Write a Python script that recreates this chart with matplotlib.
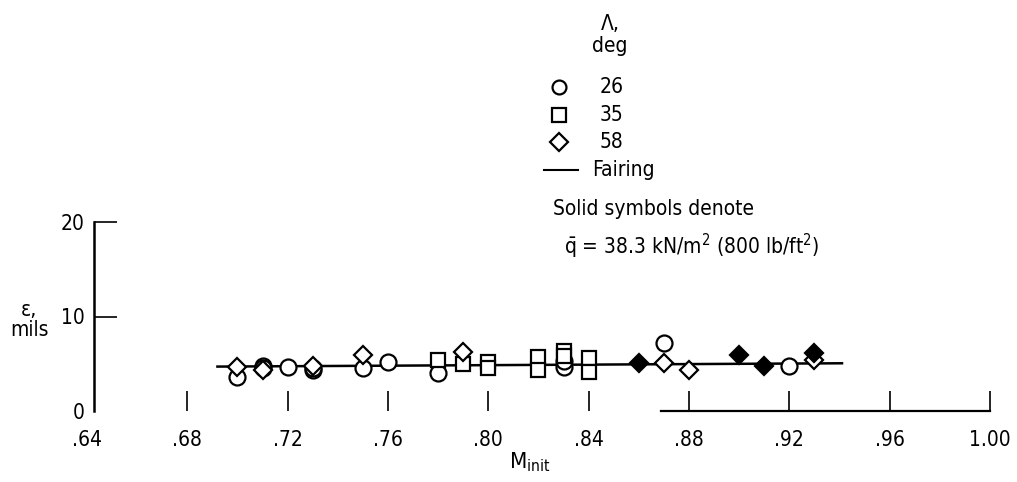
#!/usr/bin/env python3
# -*- coding: utf-8 -*-
"""
Deflection vs initial Mach number, three sweep angles.
"""

import matplotlib
matplotlib.use('Agg')
import matplotlib.pyplot as plt
from matplotlib.lines import Line2D

plt.rcParams['font.family'] = ['DejaVu Sans']
plt.rcParams['font.stretch'] = 'condensed'
plt.rcParams['mathtext.fontset'] = 'dejavusans'

#%% Data (eps in mils)
m_26 = [0.70, 0.71, 0.71, 0.72, 0.73, 0.73, 0.75, 0.76, 0.78, 0.83, 0.83, 0.87, 0.92]
e_26 = [3.6, 4.8, 4.5, 4.7, 4.3, 4.6, 4.5, 5.2, 4.0, 4.7, 5.3, 7.2, 4.8]

m_35 = [0.78, 0.79, 0.80, 0.80, 0.82, 0.82, 0.83, 0.83, 0.84, 0.84]
e_35 = [5.4, 5.0, 5.2, 4.5, 5.7, 4.3, 6.3, 5.8, 5.6, 4.1]

m_58 = [0.70, 0.71, 0.73, 0.75, 0.79, 0.87, 0.88, 0.93]
e_58 = [4.7, 4.3, 4.8, 5.9, 6.2, 5.1, 4.3, 5.4]

# solid symbols, q = 38.3 kN/m^2
m_58q = [0.86, 0.90, 0.91, 0.93]
e_58q = [5.1, 5.9, 4.8, 6.1]

m_fair = [0.692, 0.941]
e_fair = [4.7, 5.05]

xticks = [0.64, 0.68, 0.72, 0.76, 0.80, 0.84, 0.88, 0.92, 0.96, 1.00]
xticklabels = ['.64', '.68', '.72', '.76', '.80', '.84', '.88', '.92', '.96', '1.00']
yticks = [0, 10, 20]

#%% Figure
W, H = 1017, 482
fig = plt.figure(figsize=(W/100, H/100), dpi=100)
ax = fig.add_axes([87/W, 1 - 411/H, (990-87)/W, (411-222)/H])

mk = dict(linestyle='none', mec='k', mew=1.6)
ax.plot(m_fair, e_fair, color='k', lw=1.8, zorder=1)
ax.plot(m_26, e_26, marker='o', ms=11.5, mfc='white', **mk)
ax.plot(m_35, e_35, marker='s', ms=9.5, mfc='white', **mk)
ax.plot(m_58, e_58, marker='D', ms=9.5, mfc='white', **mk)
ax.plot(m_58q, e_58q, marker='D', ms=9.5, mfc='k', **mk)

for s in ['top', 'right']:
    ax.spines[s].set_visible(False)
ax.spines['left'].set_linewidth(1.8)
ax.spines['left'].set_position(('data', 0.6428))
ax.spines['bottom'].set_linewidth(1.6)
ax.spines['bottom'].set_bounds(0.869, 1.00)

ax.set_xlim(0.64, 1.00)
ax.set_ylim(0, 20)
ax.set_xticks(xticks)
ax.set_xticklabels(xticklabels)
ax.set_yticks(yticks)
ax.tick_params(axis='x', direction='in', length=14.5, width=1.2, pad=14, labelsize=15)
ax.tick_params(axis='y', direction='in', length=16.5, width=1.2, pad=7, labelsize=15)
ax.xaxis.get_major_ticks()[0].tick1line.set_visible(False)
ax.yaxis.get_major_ticks()[0].tick1line.set_visible(False)

def px(x, y):
    return x / W, 1 - y / H

# axis labels
fig.text(*px(29, 320), 'ε,\nmils', ha='center', va='center', fontsize=15, linespacing=1.0)
fig.text(*px(530, 462), r'M$_{\mathregular{init}}$', ha='center', va='center', fontsize=16)

# key
fig.text(*px(610, 35), 'Λ,\ndeg', ha='center', va='center', fontsize=15, linespacing=1.1)
for yy, m, lab in [(87, 'o', '26'), (115, 's', '35'), (142, 'D', '58')]:
    fig.add_artist(Line2D([559/W], [1 - yy/H], marker=m, ms=10 if m != 'D' else 9,
                          mfc='white', mec='k', mew=1.6, transform=fig.transFigure))
    fig.text(*px(600, yy), lab, ha='left', va='center', fontsize=15)
fig.add_artist(Line2D([544/W, 578/W], [1 - 170/H, 1 - 170/H], color='k', lw=1.5,
                      transform=fig.transFigure))
fig.text(*px(592, 170), 'Fairing', ha='left', va='center', fontsize=15)
fig.text(*px(553, 209), 'Solid symbols denote', ha='left', va='center', fontsize=15)
fig.text(*px(564, 246), r'$\bar{\mathregular{q}}$ = 38.3 kN/m$^2$ (800 lb/ft$^2$)',
         ha='left', va='center', fontsize=15)

fig.savefig('out.png', dpi=100)
